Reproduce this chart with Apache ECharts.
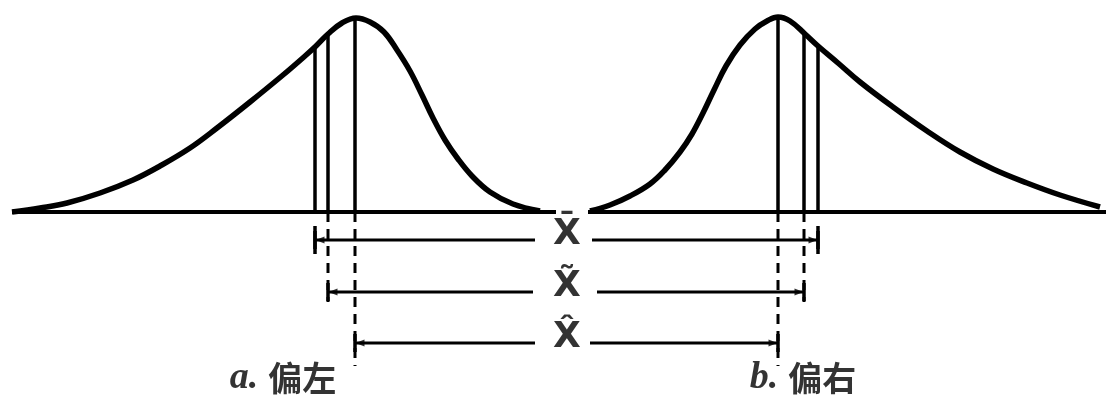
<!DOCTYPE html>
<html>
<head>
<meta charset="utf-8">
<script src="https://cdn.jsdelivr.net/npm/echarts@6/dist/echarts.min.js"></script>
<style>
  html, body { margin: 0; padding: 0; background: #fff; }
  #chart { width: 1108px; height: 398px; }
</style>
</head>
<body>
<div id="chart"></div>
<script>
// 曲线数据（横坐标, 纵坐标），纵坐标向下增大
const curveA = [[12,212],[40,208],[67,203],[100,193],[133,180],[160,166],[190,148],[217,128],[250,102],[283,75],[305,56],[316,46],[328,34],[342,23],[356,18],[370,22],[384,32],[397,50],[410,71],[422,95],[433,118],[445,140],[458,159],[472,176],[490,192],[513,204],[540,211]];
const curveB = [[590,211],[610,205],[630,196],[650,184],[665,170],[680,152],[692,134],[703,113],[714,90],[726,66],[740,45],[755,29],[767,21],[778,17],[790,21],[805,34],[818,46],[838,63],[860,82],[893,107],[927,131],[960,152],[993,169],[1027,183],[1060,195],[1100,207]];
const baseY = 212;
const baseA = [12, 556];
const baseB = [588, 1106];

// 均值、中位数、众数的位置与曲线高度
const markA = [315, 328, 355];
const markATop = [47, 34, 18];
const markB = [818, 804, 778];
const markBTop = [46, 34, 17];

// 三行的标注
const rowNames = ['X̄', 'X̃', 'X̂'];
const rowY = [240, 292, 343];
const rowLeftStart = [315, 328, 355];
const rowLeftEnd = [535, 533, 535];
const rowRightStart = [592, 597, 590];
const rowRightEnd = [818, 804, 778];

const labelNames = ['a', 'b'];
const labelTexts = ['偏左', '偏右'];
const labelX = [283, 803];

let myChart = echarts.init(document.getElementById('chart'));

let series = [];

function seg(points, width, dashed) {
    series.push({
        type: 'line',
        data: points,
        showSymbol: false,
        silent: true,
        animation: false,
        lineStyle: { color: '#000', width: width, type: dashed ? [10, 7] : 'solid', cap: 'butt' }
    });
}

// 两条曲线
[curveA, curveB].forEach(function(c) {
    series.push({
        type: 'line',
        data: c,
        smooth: 0.4,
        showSymbol: false,
        animation: false,
        lineStyle: { color: '#000', width: 5.5 }
    });
});

// 底线
seg([[baseA[0], baseY], [baseA[1], baseY]], 4);
seg([[baseB[0], baseY], [baseB[1], baseY]], 4);

// 曲线内的竖线
markA.forEach(function(x, i) { seg([[x, baseY], [x, markATop[i]]], 3.5); });
markB.forEach(function(x, i) { seg([[x, baseY], [x, markBTop[i]]], 3.5); });

// 竖直虚线
seg([[markA[1], baseY], [markA[1], 302]], 3, true);
seg([[markA[2], baseY], [markA[2], 366]], 3, true);
seg([[markB[1], baseY], [markB[1], 302]], 3, true);
seg([[markB[2], baseY], [markB[2], 366]], 3, true);

// 均值端线
seg([[markA[0], 226], [markA[0], 254]], 3.5);
seg([[markB[0], 226], [markB[0], 254]], 3.5);

// 每一行的横线和端线
rowY.forEach(function(y, i) {
    seg([[rowLeftStart[i], y], [rowLeftEnd[i], y]], 3);
    seg([[rowRightStart[i], y], [rowRightEnd[i], y]], 3);
    seg([[rowLeftStart[i], y - 9], [rowLeftStart[i], y + 9]], 3.5);
    seg([[rowRightEnd[i], y - 9], [rowRightEnd[i], y + 9]], 3.5);
    series.push({
        type: 'scatter',
        symbol: 'triangle',
        symbolSize: [7, 9],
        animation: false,
        itemStyle: { color: '#000' },
        data: [
            { value: [rowLeftStart[i] + 5, y], symbolRotate: 90 },
            { value: [rowRightEnd[i] - 5, y], symbolRotate: -90 }
        ]
    });
});

// 中间的符号
series.push({
    type: 'scatter',
    symbolSize: 0,
    animation: false,
    data: rowNames.map(function(n, i) { return [567, rowY[i] - 5, n]; }),
    label: {
        show: true,
        position: 'inside',
        color: '#000',
        fontFamily: 'DejaVu Sans',
        fontWeight: 'bold',
        fontSize: 36,
        formatter: function(p) { return p.value[2]; }
    }
});

// 图名
series.push({
    type: 'scatter',
    symbolSize: 0,
    animation: false,
    data: labelNames.map(function(n, i) { return [labelX[i], 378, n, labelTexts[i]]; }),
    label: {
        show: true,
        position: 'inside',
        formatter: function(p) { return '{a|' + p.value[2] + '.}{b|' + p.value[3] + '}'; },
        rich: {
            a: { fontFamily: 'Liberation Serif', fontStyle: 'italic', fontWeight: 'bold', fontSize: 38, color: '#000' },
            b: { fontFamily: 'Noto Sans CJK SC', fontWeight: 'bold', fontSize: 34, color: '#000', padding: [0, 0, 0, 10] }
        }
    }
});

let option = {
    backgroundColor: '#fff',
    grid: { left: 0, right: 0, top: 0, bottom: 0 },
    xAxis: { type: 'value', min: 0, max: 1108, show: false },
    yAxis: { type: 'value', min: 0, max: 398, inverse: true, show: false },
    series: series
};

myChart.setOption(option);
</script>
</body>
</html>
